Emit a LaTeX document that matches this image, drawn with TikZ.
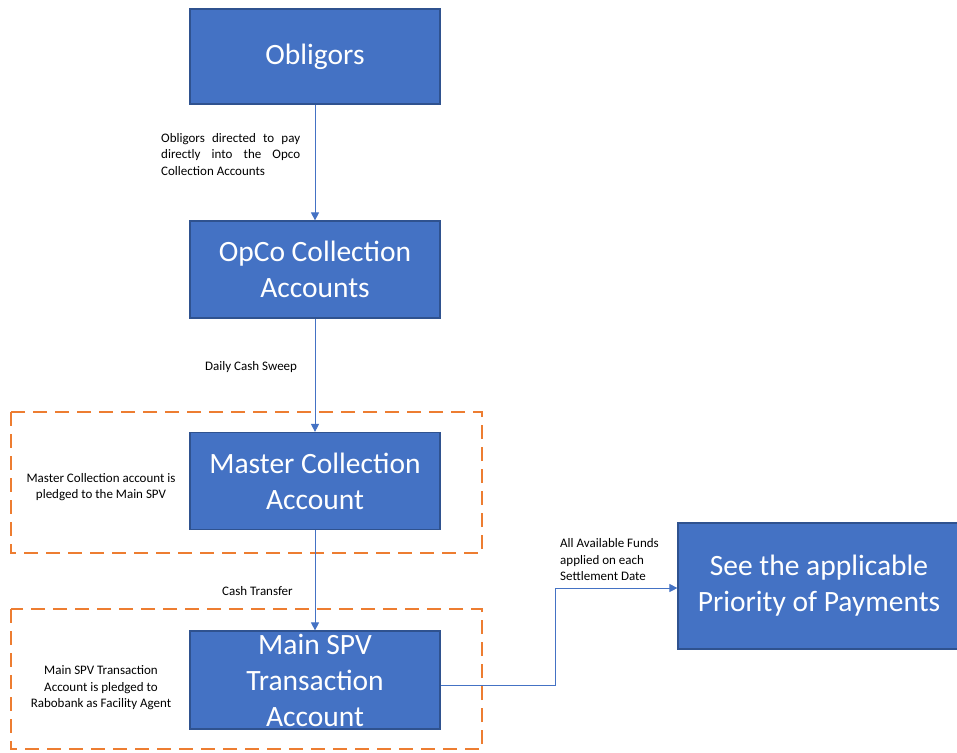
\documentclass[tikz,border=0pt]{standalone}
\usepackage{fontspec}
\setmainfont{Carlito}
\usetikzlibrary{arrows.meta}
\definecolor{boxblue}{HTML}{4472C4}
\definecolor{boxedge}{HTML}{2F528F}
\definecolor{dashor}{HTML}{ED7D31}
\begin{document}
\begin{tikzpicture}[x=1pt,y=-1pt,
  bigbox/.style={draw=boxedge,line width=1.2pt,fill=boxblue,text=white,font=\fontsize{29.5}{36}\selectfont,align=center,inner sep=0pt},
  conn/.style={draw=boxblue,line width=0.9pt,-{Triangle[length=8pt,width=8pt]}},
  frame/.style={draw=dashor,line width=2pt,dash pattern=on 14pt off 8pt},
  lbl/.style={font=\fontsize{13}{16.5}\selectfont,inner sep=0pt}]
\useasboundingbox (0,0) rectangle (957,752);
\node[bigbox,minimum width=250pt,minimum height=95pt] (obl) at (315,56.5) {Obligors};
\node[bigbox,minimum width=250pt,minimum height=97pt] (opco) at (315,269.5) {OpCo Collection\\Accounts};
\node[bigbox,minimum width=250pt,minimum height=97pt] (mca) at (315,481) {Master Collection\\Account};
\node[bigbox,minimum width=250pt,minimum height=98pt] (spv) at (315,680) {Main SPV\\Transaction\\Account};
\node[bigbox,minimum width=282pt,minimum height=126pt] (pop) at (819,586) {See the applicable\\Priority of Payments};
\draw[frame] (11,412) rectangle (482,553);
\draw[frame] (11,609) rectangle (482,749);
\draw[conn] (obl) -- (opco);
\draw[conn] (opco) -- (mca);
\draw[conn] (mca) -- (spv);
\coordinate (c1) at (555,685);
\coordinate (c2) at (555,588);
\draw[conn] (spv.east |- c1) -- (c1) -- (c2) -- (c2 -| pop.west);
\node[lbl,anchor=north west,align=left] (t1) at (161,133) {\makebox[139pt][s]{Obligors directed to pay}\\\makebox[139pt][s]{directly into the Opco}\\Collection Accounts};
\node[lbl,anchor=west] (t2) at (205,367) {Daily Cash Sweep};
\node[lbl,align=center] (t3) at (101,487) {Master Collection account is\\pledged to the Main SPV};
\node[lbl,anchor=west] (t4) at (222,591) {Cash Transfer};
\node[lbl,align=center] (t5) at (101,688) {Main SPV Transaction\\Account is pledged to\\Rabobank as Facility Agent};
\node[lbl,align=left,anchor=west] (t6) at (560,560) {All Available Funds\\applied on each\\Settlement Date};
\end{tikzpicture}
\end{document}
